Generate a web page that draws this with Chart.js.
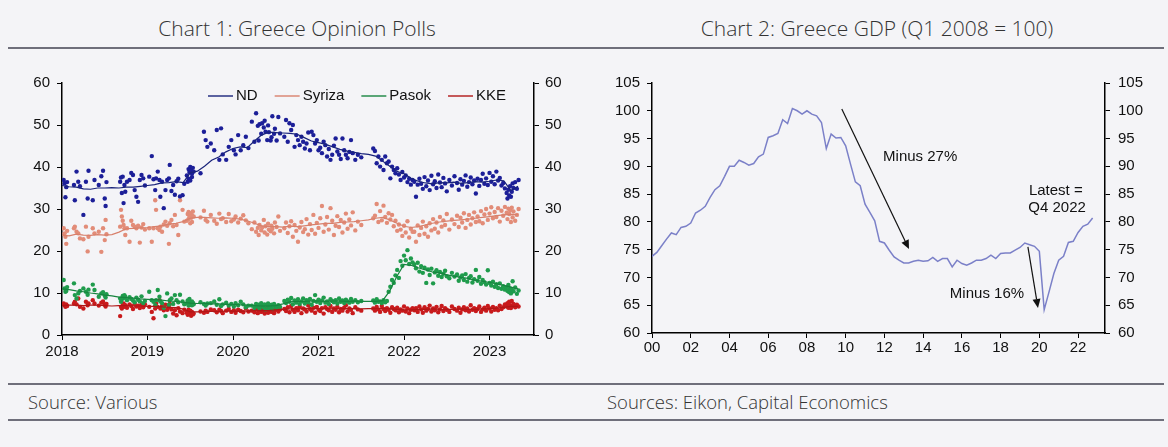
<!DOCTYPE html>
<html lang="en">
<head>
  <meta charset="UTF-8">
  <title>Greece Opinion Polls and GDP</title>
  <script src="https://cdn.jsdelivr.net/npm/chart.js"></script>
  <style>
    body {
      margin: 0;
      width: 1168px;
      height: 447px;
      overflow: hidden;
      background-color: #f4f4f7;
      font-family: "Open Sans", Arial, sans-serif;
      color: #333;
      position: relative;
    }

    .title {
      position: absolute;
      top: 14px;
      font-size: 21px;
      font-weight: 300;
      line-height: 28px;
      transform: translateX(-50%);
      white-space: nowrap;
    }

    .rule {
      position: absolute;
      left: 8px;
      width: 1156px;
      background-color: #6f6f7b;
    }

    .source {
      position: absolute;
      top: 389px;
      font-size: 18.5px;
      font-weight: 300;
      line-height: 26px;
      white-space: nowrap;
    }

    .panel {
      position: absolute;
      top: 60px;
      height: 320px;
    }
  </style>
</head>
<body>
  <div class="title" style="left:297px">Chart 1: Greece Opinion Polls</div>
  <div class="title" style="left:877px">Chart 2: Greece GDP (Q1 2008 = 100)</div>
  <div class="rule" style="top:47px;height:2px"></div>

  <div class="panel" style="left:0;width:590px"><canvas id="pollChart" width="590" height="320"></canvas></div>
  <div class="panel" style="left:590px;width:578px"><canvas id="gdpChart" width="578" height="320"></canvas></div>

  <div class="rule" style="top:383px;height:1.5px"></div>
  <div class="source" style="left:28px">Source: Various</div>
  <div class="source" style="left:607px">Sources: Eikon, Capital Economics</div>
  <div class="rule" style="top:419px;height:1.5px"></div>

  <script>
    // ---- Chart 1: individual polls (decimal year) ----
    const pollDates = [
      2018.02, 2018.03, 2018.04, 2018.05, 2018.06, 2018.14, 2018.15, 2018.17, 2018.19, 2018.21, 2018.25, 2018.28, 2018.30, 2018.31, 2018.36, 2018.38, 2018.43, 2018.46, 2018.48, 2018.50, 2018.51, 2018.52,
      2018.68, 2018.69, 2018.70, 2018.71, 2018.72, 2018.73, 2018.74, 2018.76, 2018.79, 2018.81, 2018.83, 2018.85, 2018.87, 2018.89, 2018.91, 2018.93, 2018.95, 2018.97,
      2019.02, 2019.05, 2019.07, 2019.09, 2019.10, 2019.12, 2019.14, 2019.15, 2019.17, 2019.19, 2019.21, 2019.23, 2019.25, 2019.26, 2019.28, 2019.30, 2019.32, 2019.34, 2019.36, 2019.38, 2019.41, 2019.43,
      2019.46, 2019.47, 2019.48, 2019.48, 2019.49, 2019.50, 2019.50, 2019.51, 2019.52, 2019.52, 2019.53, 2019.54,
      2019.62, 2019.66, 2019.68, 2019.70, 2019.74, 2019.78, 2019.81, 2019.84, 2019.86, 2019.88, 2019.92, 2019.95, 2019.98, 2020.01, 2020.03, 2020.06, 2020.09, 2020.12, 2020.15, 2020.18,
      2020.22, 2020.25, 2020.27, 2020.29, 2020.30, 2020.31, 2020.33, 2020.34, 2020.36, 2020.37, 2020.38, 2020.40, 2020.41, 2020.42, 2020.44, 2020.45, 2020.46, 2020.48, 2020.49, 2020.51, 2020.53, 2020.55,
      2020.60, 2020.62, 2020.64, 2020.66, 2020.68, 2020.70, 2020.72, 2020.74, 2020.76, 2020.78, 2020.80, 2020.82, 2020.84, 2020.86, 2020.88, 2020.90, 2020.92, 2020.94, 2020.96, 2020.98,
      2021.00, 2021.02, 2021.04, 2021.06, 2021.08, 2021.10, 2021.12, 2021.14, 2021.16, 2021.18, 2021.20, 2021.22, 2021.24, 2021.26, 2021.28, 2021.30, 2021.32, 2021.34, 2021.36, 2021.38, 2021.40, 2021.43, 2021.46, 2021.50,
      2021.64, 2021.66, 2021.68, 2021.70, 2021.72, 2021.74, 2021.76, 2021.78, 2021.80, 2021.82, 2021.84, 2021.86, 2021.88, 2021.90, 2021.92, 2021.94, 2021.96, 2021.98, 2022.00, 2022.02, 2022.04, 2022.06, 2022.08, 2022.10,
      2022.12, 2022.14, 2022.16, 2022.18, 2022.20, 2022.22, 2022.24, 2022.26, 2022.28, 2022.30, 2022.32, 2022.34, 2022.36, 2022.38, 2022.40, 2022.42, 2022.44, 2022.46, 2022.48, 2022.50, 2022.53, 2022.56, 2022.59,
      2022.62, 2022.64, 2022.66, 2022.68, 2022.70, 2022.72, 2022.74, 2022.76, 2022.78, 2022.80, 2022.82, 2022.84, 2022.86, 2022.88, 2022.90, 2022.92, 2022.94, 2022.96, 2022.98,
      2023.00, 2023.02, 2023.04, 2023.06, 2023.08, 2023.10, 2023.12, 2023.14, 2023.16, 2023.18, 2023.20, 2023.21, 2023.22, 2023.23, 2023.24, 2023.25, 2023.26, 2023.27, 2023.28, 2023.30, 2023.32, 2023.34
    ];

    const ndPolls = [
      36.9, 36.1, 32.8, 35.2, 36.4, 35.7, 32.1, 38.9, 36.5, 35.4, 28.6, 36.5, 32.5, 39.1, 32.1, 36.9, 35.7, 37.8, 39.1, 32.5, 30.7, 36.4,
      36.5, 37.5, 33.8, 37.7, 31.4, 35.7, 34.1, 36.5, 36.9, 38.6, 38.1, 34.5, 32.9, 31.7, 36.9, 38.1, 37.3, 35.6,
      37.7, 42.6, 37.1, 34.5, 37.3, 38.9, 36.9, 32.9, 36.5, 30.2, 34.5, 36.9, 37.3, 40.5, 34.3, 35.7, 33.4, 36.6, 37.2, 33.0, 33.3, 36.0,
      38.0, 36.5, 39.5, 37.2, 38.8, 40.0, 36.8, 39.2, 38.4, 37.6, 39.8, 38.9,
      38.5, 48.4, 46.4, 44.8, 45.6, 44.0, 48.8, 41.7, 49.2, 43.0, 41.7, 44.8, 46.4, 44.0, 43.0, 47.6, 44.0, 45.2, 47.2, 44.5,
      50.8, 46.0, 52.8, 49.8, 46.3, 50.2, 47.9, 50.4, 49.4, 51.0, 48.4, 46.4, 49.9, 48.3, 46.3, 47.1, 52.1, 47.9, 49.1, 46.3, 51.9, 48.0,
      47.2, 51.2, 46.0, 50.4, 48.8, 50.0, 44.8, 47.6, 46.4, 45.2, 47.2, 46.0, 44.4, 45.6, 48.2, 44.0, 48.4, 47.6, 45.6, 46.4,
      44.0, 44.6, 43.3, 46.0, 45.2, 42.5, 44.3, 41.7, 42.9, 45.1, 46.8, 43.7, 42.9, 41.9, 46.8, 44.0, 42.9, 42.1, 43.6, 46.4, 43.3, 41.7, 42.9, 42.3,
      44.4, 43.8, 40.9, 42.5, 40.1, 41.7, 39.3, 42.5, 40.9, 41.3, 37.3, 40.1, 39.3, 38.5, 39.7, 38.2, 36.9, 38.8, 37.5, 38.0, 36.4, 37.2, 35.8, 36.9,
      36.5, 32.9, 35.8, 37.2, 36.0, 34.8, 37.6, 35.4, 36.8, 34.5, 37.9, 35.9, 36.6, 35.0, 38.2, 36.3, 35.2, 37.4, 36.1, 34.2, 36.9, 35.6, 37.8,
      36.2, 34.6, 37.1, 35.8, 36.7, 38.0, 35.3, 36.4, 37.5, 35.9, 36.8, 33.7, 37.2, 35.5, 36.9, 38.4, 36.0, 37.3, 35.7,
      38.6, 36.5, 37.8, 35.9, 38.9, 36.8, 37.4, 35.6, 36.2, 34.9, 33.8, 32.5, 34.6, 33.2, 35.4, 32.9, 34.1, 36.1, 35.0, 36.4, 34.8, 36.9
    ];

    const syrizaPolls = [
      25.4, 24.2, 23.4, 21.7, 24.8, 25.4, 25.8, 24.6, 24.2, 23.0, 22.8, 25.8, 19.9, 23.4, 25.4, 24.2, 24.6, 19.8, 25.4, 22.6, 27.4, 24.0,
      25.8, 29.8, 28.2, 27.2, 26.2, 25.4, 23.8, 25.4, 22.2, 27.2, 26.2, 25.8, 25.4, 26.0, 22.0, 25.6, 26.4, 25.1,
      25.4, 22.2, 25.4, 32.1, 29.8, 25.4, 25.0, 25.8, 24.6, 26.3, 27.0, 26.0, 21.7, 26.6, 27.4, 25.9, 28.6, 26.2, 23.8, 32.1, 29.8, 27.0,
      27.2, 28.8, 29.3, 27.6, 28.1, 26.6, 29.0, 27.9, 28.5, 26.9, 29.4, 28.2,
      28.0, 29.6, 27.4, 27.0, 28.6, 27.2, 26.5, 28.9, 27.6, 27.8, 26.9, 28.8, 27.1, 27.5, 28.2, 26.8, 27.7, 28.5, 27.3, 26.6,
      25.2, 26.8, 24.6, 25.5, 23.8, 26.2, 24.9, 25.6, 27.4, 24.4, 25.9, 23.9, 26.5, 25.1, 24.7, 26.0, 25.3, 24.2, 26.8, 25.7, 28.2, 24.8,
      25.4, 26.8, 24.3, 25.9, 27.1, 23.4, 26.2, 24.8, 22.2, 25.6, 26.9, 24.5, 25.2, 27.6, 23.9, 26.4, 25.0, 28.6, 24.1, 26.7,
      25.5, 27.8, 30.7, 24.6, 26.3, 28.1, 25.1, 30.2, 27.2, 23.8, 26.0, 28.3, 25.7, 27.4, 24.4, 26.8, 28.9, 25.3, 27.5, 26.1, 29.2, 24.9, 27.0, 26.2,
      27.8, 28.4, 31.2, 26.9, 29.5, 27.3, 30.8, 28.1, 26.7, 29.0, 27.5, 28.6, 25.9, 27.2, 24.8, 26.3, 25.1, 23.6, 26.0, 24.4, 27.1, 23.2, 25.3, 24.6,
      24.6, 22.2, 26.1, 23.8, 25.5, 27.0, 24.1, 25.9, 23.4, 26.6, 24.9, 27.6, 25.3, 26.8, 24.4, 28.1, 25.8, 27.3, 26.2, 28.8, 25.1, 27.5, 26.4,
      28.4, 25.7, 27.9, 26.8, 29.0, 25.5, 27.4, 28.6, 26.3, 27.8, 29.2, 26.9, 28.2, 27.1, 29.5, 26.6, 28.7, 30.0, 27.4,
      28.9, 30.4, 27.8, 29.3, 28.1, 30.2, 27.0, 29.6, 28.4, 30.5, 29.1, 27.6, 30.1, 28.8, 29.7, 26.9, 30.3, 28.0, 29.4, 27.2, 28.6, 30.0
    ];

    const pasokPolls = [
      13.1, 11.1, 10.3, 10.5, 11.4, 12.3, 9.5, 8.7, 9.9, 10.5, 11.1, 10.3, 9.6, 10.8, 12.0, 10.7, 9.1, 9.9, 10.2, 9.4, 8.9, 9.7,
      8.7, 7.9, 8.5, 9.3, 8.8, 9.5, 9.1, 8.3, 9.0, 8.6, 8.2, 7.8, 8.9, 8.4, 8.0, 9.2, 7.6, 8.1,
      10.3, 8.3, 7.9, 7.1, 8.3, 10.7, 9.1, 8.0, 7.6, 6.5, 4.5, 9.9, 7.2, 8.3, 8.7, 7.4, 9.5, 8.3, 7.8, 9.6, 8.0, 7.3,
      7.6, 8.2, 7.4, 7.0, 8.6, 7.8, 7.2, 7.5, 8.0, 7.1, 7.7, 7.3,
      7.8, 7.4, 7.0, 7.5, 7.6, 8.0, 7.2, 8.5, 6.9, 7.3, 7.7, 7.0, 7.4, 6.8, 7.6, 7.1, 7.9, 7.3, 6.6, 7.0,
      7.0, 6.5, 7.4, 6.8, 7.2, 6.3, 7.6, 6.9, 6.6, 7.3, 6.1, 7.0, 7.5, 6.4, 6.8, 7.2, 6.2, 7.4, 6.9, 6.5, 7.1, 6.7,
      8.1, 7.6, 8.4, 7.9, 8.8, 7.3, 8.2, 7.7, 8.5, 7.4, 8.0, 8.7, 7.5, 8.3, 7.8, 8.6, 7.2, 8.1, 9.5, 7.9,
      8.4, 7.6, 8.2, 8.9, 7.7, 8.0, 7.4, 8.5, 8.1, 7.8, 8.3, 7.5, 8.7, 7.9, 8.2, 7.6, 8.4, 8.0, 7.7, 8.6, 7.9, 8.3, 7.8, 8.1,
      8.2, 7.7, 8.5, 7.9, 8.0, 7.6, 8.3, 7.8, 8.1, 10.3, 11.5, 13.1, 12.4, 14.2, 15.5, 13.6, 17.6, 16.5, 18.9, 17.8, 20.2, 16.9, 18.2, 17.3,
      16.8, 15.9, 17.2, 15.1, 16.4, 14.8, 16.0, 12.4, 15.6, 14.3, 15.8, 12.3, 14.9, 15.4, 14.1, 15.0, 13.8, 14.6, 15.3, 14.0, 13.5, 14.8, 13.9,
      14.4, 12.9, 13.7, 14.2, 13.1, 14.5, 12.7, 13.6, 14.0, 12.5, 13.3, 15.5, 12.9, 13.8, 12.2, 13.1, 12.6, 12.0, 15.4,
      12.4, 11.8, 12.7, 11.5, 12.1, 11.2, 12.3, 11.0, 11.6, 10.8, 11.4, 10.5, 11.9, 10.2, 11.1, 9.9, 10.7, 12.8, 10.4, 11.3, 9.8, 10.6
    ];

    const kkePolls = [
      7.5, 7.1, 6.7, 7.3, 6.9, 7.5, 7.9, 7.3, 8.7, 6.7, 6.3, 7.9, 7.1, 7.5, 8.3, 7.5, 7.0, 7.7, 8.0, 7.2, 6.8, 7.4,
      4.5, 6.7, 6.3, 7.1, 7.5, 6.7, 7.1, 6.5, 7.3, 6.9, 6.2, 7.4, 6.8, 7.0, 6.4, 7.2, 6.6, 7.3,
      6.7, 5.5, 4.0, 6.3, 7.5, 6.7, 8.3, 6.3, 6.9, 5.9, 7.2, 6.0, 6.6, 7.4, 6.1, 5.1, 5.9, 4.7, 6.4, 5.6, 5.2, 6.0,
      5.3, 4.8, 5.6, 6.0, 5.0, 5.4, 5.8, 4.6, 5.2, 5.5, 4.9, 5.1,
      5.6, 5.3, 5.8, 5.5, 6.1, 5.9, 5.4, 6.0, 5.7, 5.2, 5.8, 6.2, 5.5, 5.9, 5.3, 6.0, 5.7, 5.4, 6.3, 5.6,
      5.8, 5.4, 6.1, 5.2, 5.9, 6.3, 5.5, 6.0, 5.7, 5.1, 6.2, 5.6, 5.3, 6.4, 5.8, 5.5, 6.0, 5.2, 5.9, 6.5, 5.6, 6.1,
      6.2, 5.7, 6.6, 5.4, 6.9, 6.0, 5.5, 6.4, 5.9, 6.8, 5.2, 6.3, 6.1, 5.6, 7.0, 6.2, 5.8, 6.5, 5.3, 6.7,
      6.0, 5.7, 6.4, 5.1, 6.6, 6.2, 5.9, 6.9, 5.5, 6.3, 6.0, 6.7, 5.4, 6.2, 5.8, 6.5, 7.1, 5.6, 6.3, 6.0, 5.2, 6.6, 6.1, 5.8,
      6.3, 5.8, 6.7, 6.1, 5.5, 6.9, 6.2, 5.7, 6.4, 6.0, 5.3, 6.6, 6.2, 5.9, 6.5, 5.4, 6.1, 5.8, 6.8, 5.6, 6.3, 5.2, 6.0, 6.4,
      5.9, 6.4, 5.5, 6.8, 6.1, 5.3, 6.6, 5.8, 6.2, 7.0, 5.6, 6.3, 5.9, 6.7, 5.4, 6.1, 6.9, 5.7, 6.4, 6.0, 5.5, 6.8, 6.2,
      5.8, 6.5, 5.3, 6.1, 6.6, 5.9, 6.3, 5.6, 7.1, 6.0, 6.4, 5.7, 6.2, 6.8, 5.5, 6.1, 6.5, 5.8, 6.9,
      6.3, 5.6, 6.7, 6.0, 6.4, 5.9, 7.0, 6.2, 6.6, 7.3, 6.8, 7.6, 6.5, 7.9, 7.1, 6.4, 8.1, 6.9, 7.4, 6.6, 7.2, 6.8
    ];

    // ---- Chart 1: smoothed trend, one value per month from Jan 2018 ----
    const trendStart = 2018;
    const ndTrend = [
      35.6, 35.3, 35.2, 34.8, 34.7, 35.0, 35.0, 35.1, 35.0, 35.2, 35.2, 35.4,
      35.6, 35.8, 36.2, 36.3, 36.5, 36.3, 38.6, 39.0, 40.2, 41.6, 42.4, 43.6,
      44.4, 44.8, 44.6, 46.2, 47.6, 48.3, 48.2, 48.1, 48.0, 47.8, 47.0, 46.2,
      45.8, 45.4, 44.8, 44.2, 43.8, 43.5, 43.2, 43.0, 42.6, 41.4, 40.2, 39.0,
      38.4, 37.3, 36.6, 36.2, 36.0, 36.3, 36.2, 36.4, 36.1, 36.3, 36.5, 36.4,
      36.6, 36.9, 36.7, 34.4, 35.4
    ];
    const syrizaTrend = [
      23.8, 23.6, 24.0, 23.8, 23.7, 23.9, 23.8, 23.9, 24.5, 25.3, 25.4, 25.5,
      25.6, 25.8, 26.0, 26.4, 26.6, 27.0, 27.8, 28.0, 28.0, 27.9, 27.8, 27.9,
      27.8, 27.6, 27.2, 26.6, 26.0, 25.8, 25.8, 25.7, 25.9, 25.8, 26.0, 26.2,
      26.4, 26.6, 26.6, 26.8, 26.9, 27.0, 27.2, 27.4, 27.8, 28.0, 27.4, 26.6,
      25.9, 25.6, 25.8, 26.2, 26.6, 26.9, 27.1, 27.3, 27.4, 27.6, 27.8, 28.0,
      28.2, 28.4, 28.6, 28.7, 28.6
    ];
    const pasokTrend = [
      11.0, 10.8, 10.5, 10.3, 10.0, 9.8, 9.5, 9.3, 9.0, 8.9, 8.8, 8.6,
      8.5, 8.4, 8.3, 8.1, 8.0, 7.8, 7.6, 7.5, 7.5, 7.4, 7.4, 7.3,
      7.3, 7.2, 7.1, 7.0, 6.9, 6.9, 7.0, 7.4, 7.9, 8.0, 8.0, 8.1,
      8.1, 8.0, 8.1, 8.1, 8.0, 8.1, 8.0, 8.0, 8.0, 8.2, 10.5, 14.0,
      16.8, 16.6, 16.0, 15.5, 15.0, 14.8, 14.3, 14.0, 13.7, 13.5, 13.0, 12.8,
      12.5, 12.2, 11.8, 11.4, 11.0
    ];
    const kkeTrend = [
      7.0, 7.1, 7.1, 7.0, 7.1, 7.1, 7.0, 6.9, 7.0, 7.0, 6.9, 6.9,
      6.8, 6.8, 6.7, 6.6, 6.5, 6.2, 5.5, 5.5, 5.6, 5.6, 5.6, 5.7,
      5.7, 5.7, 5.7, 5.8, 5.8, 5.8, 6.0, 6.1, 6.2, 6.2, 6.3, 6.3,
      6.3, 6.3, 6.2, 6.3, 6.3, 6.3, 6.2, 6.3, 6.3, 6.3, 6.2, 6.1,
      6.0, 6.0, 6.1, 6.1, 6.2, 6.1, 6.1, 6.1, 6.2, 6.1, 6.1, 6.2,
      6.3, 6.4, 6.6, 6.8, 6.8
    ];

    const parties = ['ND', 'Syriza', 'Pasok', 'KKE'];
    const pollTicks = [0, 10, 20, 30, 40, 50, 60];

    // ---- Chart 2: GDP index, quarterly from Q1 2000 to Q4 2022 ----
    const gdpStart = 2000;
    const gdpIndex = [
      73.8, 74.5, 75.7, 76.9, 78.0, 77.7, 79.0, 79.2, 79.8, 81.6, 82.1, 82.8,
      84.4, 85.8, 86.5, 88.2, 90.0, 90.0, 91.1, 90.7, 90.2, 90.5, 91.7, 92.2,
      95.2, 95.5, 95.9, 98.4, 97.7, 100.4, 100.0, 99.4, 100.0, 99.4, 99.1, 97.9,
      93.2, 95.8, 95.1, 95.2, 93.7, 90.4, 87.2, 86.5, 83.2, 81.7, 80.2, 76.5,
      76.2, 74.9, 73.7, 73.1, 72.6, 72.6, 72.9, 73.1, 72.9, 73.0, 73.6, 72.9,
      73.4, 73.4, 71.9, 73.1, 72.5, 72.2, 72.6, 73.1, 73.1, 73.4, 74.0, 73.4,
      74.3, 74.4, 74.4, 74.9, 75.4, 76.2, 75.9, 75.6, 74.7, 64.2, 67.4, 70.7,
      73.1, 73.8, 76.3, 76.5, 78.1, 79.2, 79.6, 80.7
    ];

    const axisFont = { family: 'Arial, "Liberation Sans", sans-serif', size: 15 };
    const colors = {
      ND: { dot: '#1c1f98', line: '#19237a' },
      Syriza: { dot: '#e28c78', line: '#d8806c' },
      Pasok: { dot: '#1f9b4c', line: '#17843f' },
      KKE: { dot: '#c81a1c', line: '#b01616' }
    };

    function axis(position, min, max, step, width, pad) {
      return {
        type: 'linear',
        position: position,
        min: min,
        max: max,
        grid: { drawOnChartArea: false, tickLength: 5, color: '#000', lineWidth: 1 },
        border: { color: '#000', width: 1.5 },
        ticks: { stepSize: step, color: '#111', font: axisFont, padding: pad },
        afterFit: s => { s.width = width; }
      };
    }

    // legend drawn inside the plot area, like the original
    const insideLegend = {
      id: 'insideLegend',
      afterDraw(chart) {
        const ctx = chart.ctx;
        let x = chart.chartArea.left + 146;
        const y = chart.chartArea.top + 13;
        ctx.save();
        ctx.font = '15px Arial, "Liberation Sans", sans-serif';
        ctx.textBaseline = 'middle';
        parties.forEach(p => {
          ctx.strokeStyle = colors[p].line;
          ctx.lineWidth = 1.4;
          ctx.beginPath();
          ctx.moveTo(x, y);
          ctx.lineTo(x + 25, y);
          ctx.stroke();
          x += 28;
          ctx.fillStyle = '#111';
          ctx.fillText(p, x, y);
          x += ctx.measureText(p).width + 17;
        });
        ctx.restore();
      }
    };

    const pollSeries = { ND: ndPolls, Syriza: syrizaPolls, Pasok: pasokPolls, KKE: kkePolls };
    const trendSeries = { ND: ndTrend, Syriza: syrizaTrend, Pasok: pasokTrend, KKE: kkeTrend };

    const pollDatasets = [];
    parties.forEach(p => {
      pollDatasets.push({
        type: 'line',
        label: p + ' trend',
        data: trendSeries[p].map((v, m) => ({ x: trendStart + m / 12, y: v })),
        borderColor: colors[p].line,
        borderWidth: 1.2,
        pointRadius: 0,
        tension: 0,
        fill: false
      });
    });
    parties.forEach(p => {
      pollDatasets.push({
        type: 'scatter',
        label: p,
        data: pollDates.map((d, i) => ({ x: d, y: pollSeries[p][i] })),
        backgroundColor: colors[p].dot,
        borderWidth: 0,
        pointRadius: 2.2
      });
    });

    new Chart(document.getElementById('pollChart'), {
      data: { datasets: pollDatasets },
      options: {
        responsive: false,
        animation: false,
        layout: { padding: { top: 23, left: 0, right: 0, bottom: 0 } },
        plugins: { legend: { display: false }, tooltip: { enabled: false } },
        scales: {
          x: {
            type: 'linear',
            min: 2018,
            max: 2023.52,
            grid: { drawOnChartArea: false, tickLength: 5, color: '#000', lineWidth: 1 },
            border: { color: '#000', width: 1.5 },
            ticks: {
              stepSize: 1, includeBounds: false, color: '#111', font: axisFont,
              padding: 3, maxRotation: 0, callback: v => String(v)
            },
            afterBuildTicks: s => { s.ticks = s.ticks.filter(t => Number.isInteger(t.value)); },
            afterFit: s => { s.height = 45; }
          },
          y: axis('left', pollTicks[0], pollTicks[pollTicks.length - 1], 10, 62, 7),
          y2: axis('right', pollTicks[0], pollTicks[pollTicks.length - 1], 10, 56, 6)
        }
      },
      plugins: [insideLegend]
    });

    // ---- Chart 2 annotations (in data units) ----
    const gdpArrows = [
      { from: [2009.8, 100.3], to: [2013.27, 75.1] },
      { from: [2019.41, 75.5], to: [2019.93, 64.5] }
    ];
    const gdpNotes = [
      { text: 'Minus 27%', at: [2011.93, 91.65] },
      { text: 'Minus 16%', at: [2015.38, 67.0] },
      { text: 'Latest =', at: [2019.46, 85.5] },
      { text: 'Q4 2022', at: [2019.43, 82.5] }
    ];

    const gdpAnnotations = {
      id: 'gdpAnnotations',
      afterDraw(chart) {
        const ctx = chart.ctx;
        const xs = chart.scales.x, ys = chart.scales.y;
        ctx.save();
        ctx.strokeStyle = '#111';
        ctx.fillStyle = '#111';
        ctx.lineWidth = 1.2;
        gdpArrows.forEach(a => {
          const x1 = xs.getPixelForValue(a.from[0]), y1 = ys.getPixelForValue(a.from[1]);
          const x2 = xs.getPixelForValue(a.to[0]), y2 = ys.getPixelForValue(a.to[1]);
          const ang = Math.atan2(y2 - y1, x2 - x1);
          const len = 9, half = 4;
          const bx = x2 - len * Math.cos(ang), by = y2 - len * Math.sin(ang);
          ctx.beginPath();
          ctx.moveTo(x1, y1);
          ctx.lineTo(bx, by);
          ctx.stroke();
          ctx.beginPath();
          ctx.moveTo(x2, y2);
          ctx.lineTo(bx + half * Math.sin(ang), by - half * Math.cos(ang));
          ctx.lineTo(bx - half * Math.sin(ang), by + half * Math.cos(ang));
          ctx.closePath();
          ctx.fill();
        });
        ctx.font = '15px Arial, "Liberation Sans", sans-serif';
        ctx.textBaseline = 'middle';
        gdpNotes.forEach(n => {
          ctx.fillText(n.text, xs.getPixelForValue(n.at[0]), ys.getPixelForValue(n.at[1]));
        });
        ctx.restore();
      }
    };

    new Chart(document.getElementById('gdpChart'), {
      type: 'line',
      data: {
        datasets: [{
          label: 'GDP',
          data: gdpIndex.map((v, i) => ({ x: gdpStart + i / 4, y: v })),
          borderColor: '#7b80c8',
          borderWidth: 1.5,
          pointRadius: 0,
          tension: 0,
          fill: false
        }]
      },
      options: {
        responsive: false,
        animation: false,
        layout: { padding: { top: 23, left: 0, right: 0, bottom: 0 } },
        plugins: { legend: { display: false }, tooltip: { enabled: false } },
        scales: {
          x: {
            type: 'linear',
            min: 2000,
            max: 2023.39,
            grid: { drawOnChartArea: false, tickLength: 5, color: '#000', lineWidth: 1 },
            border: { color: '#000', width: 1.5 },
            ticks: {
              stepSize: 2, includeBounds: false, color: '#111', font: axisFont,
              padding: 1, maxRotation: 0, autoSkip: false,
              callback: v => String(v % 100).padStart(2, '0')
            },
            afterBuildTicks: s => { s.ticks = s.ticks.filter(t => Number.isInteger(t.value) && t.value % 2 === 0); },
            afterFit: s => { s.height = 47; }
          },
          y: axis('left', 60, 105, 5, 62, 7),
          y2: axis('right', 60, 105, 5, 63, 8)
        }
      },
      plugins: [gdpAnnotations]
    });
  </script>
</body>
</html>
